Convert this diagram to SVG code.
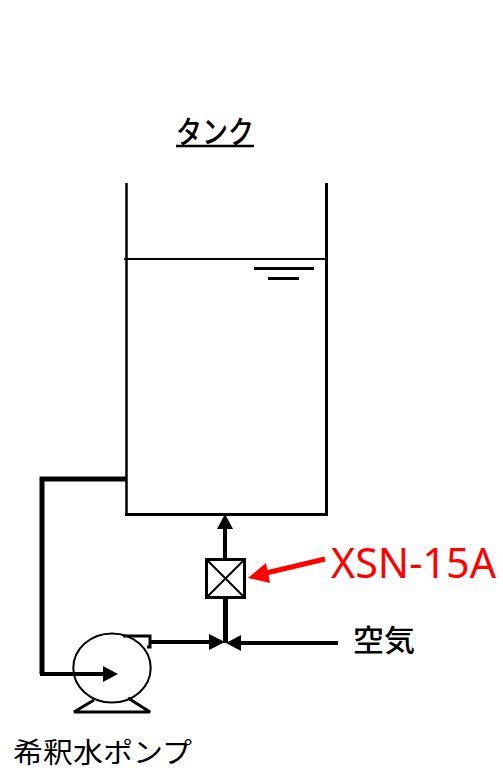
<svg xmlns="http://www.w3.org/2000/svg" width="503" height="770" viewBox="0 0 503 770">
<style>
.l{fill:none;stroke:#000;stroke-linecap:butt;stroke-linejoin:miter}
.jp{font-family:"Noto Sans CJK JP","Noto Sans",sans-serif;fill:#000}
</style>
<rect width="503" height="770" fill="#fff"/>
<g id="tank">
<path class="l" stroke-width="2.5" d="M126.500 183V514.500"/>
<path class="l" stroke-width="3" d="M326.500 183V514"/>
<path class="l" stroke-width="3" d="M125 514.500H328"/>
<path class="l" stroke-width="2" d="M124 259H326"/>
<path class="l" stroke-width="3" d="M254 268.500H314"/>
<path class="l" stroke-width="3" d="M268 278.500H299"/>
<text class="jp" x="215" y="143" font-size="31" font-weight="500" text-anchor="middle" textLength="78" lengthAdjust="spacingAndGlyphs">タンク</text>
<path class="l" stroke-width="2.500" d="M176 146H254"/>
</g>
<g id="connectors">
<path class="l" stroke-width="5" d="M126 479H42V674"/>
<path class="l" stroke-width="4" d="M40 674H105"/>
<path d="M103 666L118 674L103 682Z" fill="#000"/>
<path class="l" stroke-width="4" d="M151 642H212"/>
<path d="M209 634L225 642L209 650Z" fill="#000"/>
<path class="l" stroke-width="4" d="M240 643H338"/>
<path d="M241 635L226 643L241 651Z" fill="#000"/>
<path class="l" stroke-width="5" d="M225.500 598V643"/>
<path class="l" stroke-width="4" d="M225 527V559"/>
<path d="M217 529L225 514L233 529Z" fill="#000"/>
</g>
<g id="valve">
<rect class="l" stroke-width="3" x="206.500" y="559.500" width="38" height="38" fill="#fff"/>
<path class="l" stroke-width="2" d="M207 560L244 597M244 560L207 597"/>
</g>
<g id="pump">
<path class="l" stroke-width="3" d="M123 636H150V647H147"/>
<ellipse class="l" stroke-width="2" cx="112" cy="668" rx="38.700" ry="34.500"/>
<path class="l" stroke-width="3" d="M94 700L74 712H150L128 698" style="stroke-linejoin:bevel"/>
<text class="jp" x="13" y="763" font-size="28" textLength="179" lengthAdjust="spacingAndGlyphs">希釈水ポンプ</text>
</g>
<g id="callout">
<path fill="none" stroke="#f00" stroke-width="5" d="M325 559L262 574"/>
<path d="M248 578L266 563L270 583Z" fill="#f00"/>
<text x="331" y="578" font-family="'Noto Sans',sans-serif" font-size="42" fill="#f00" textLength="165" lengthAdjust="spacingAndGlyphs">XSN-15A</text>
</g>
<g id="air">
<text class="jp" x="353" y="651" font-size="30" font-weight="500" textLength="62" lengthAdjust="spacingAndGlyphs">空気</text>
</g>
</svg>
